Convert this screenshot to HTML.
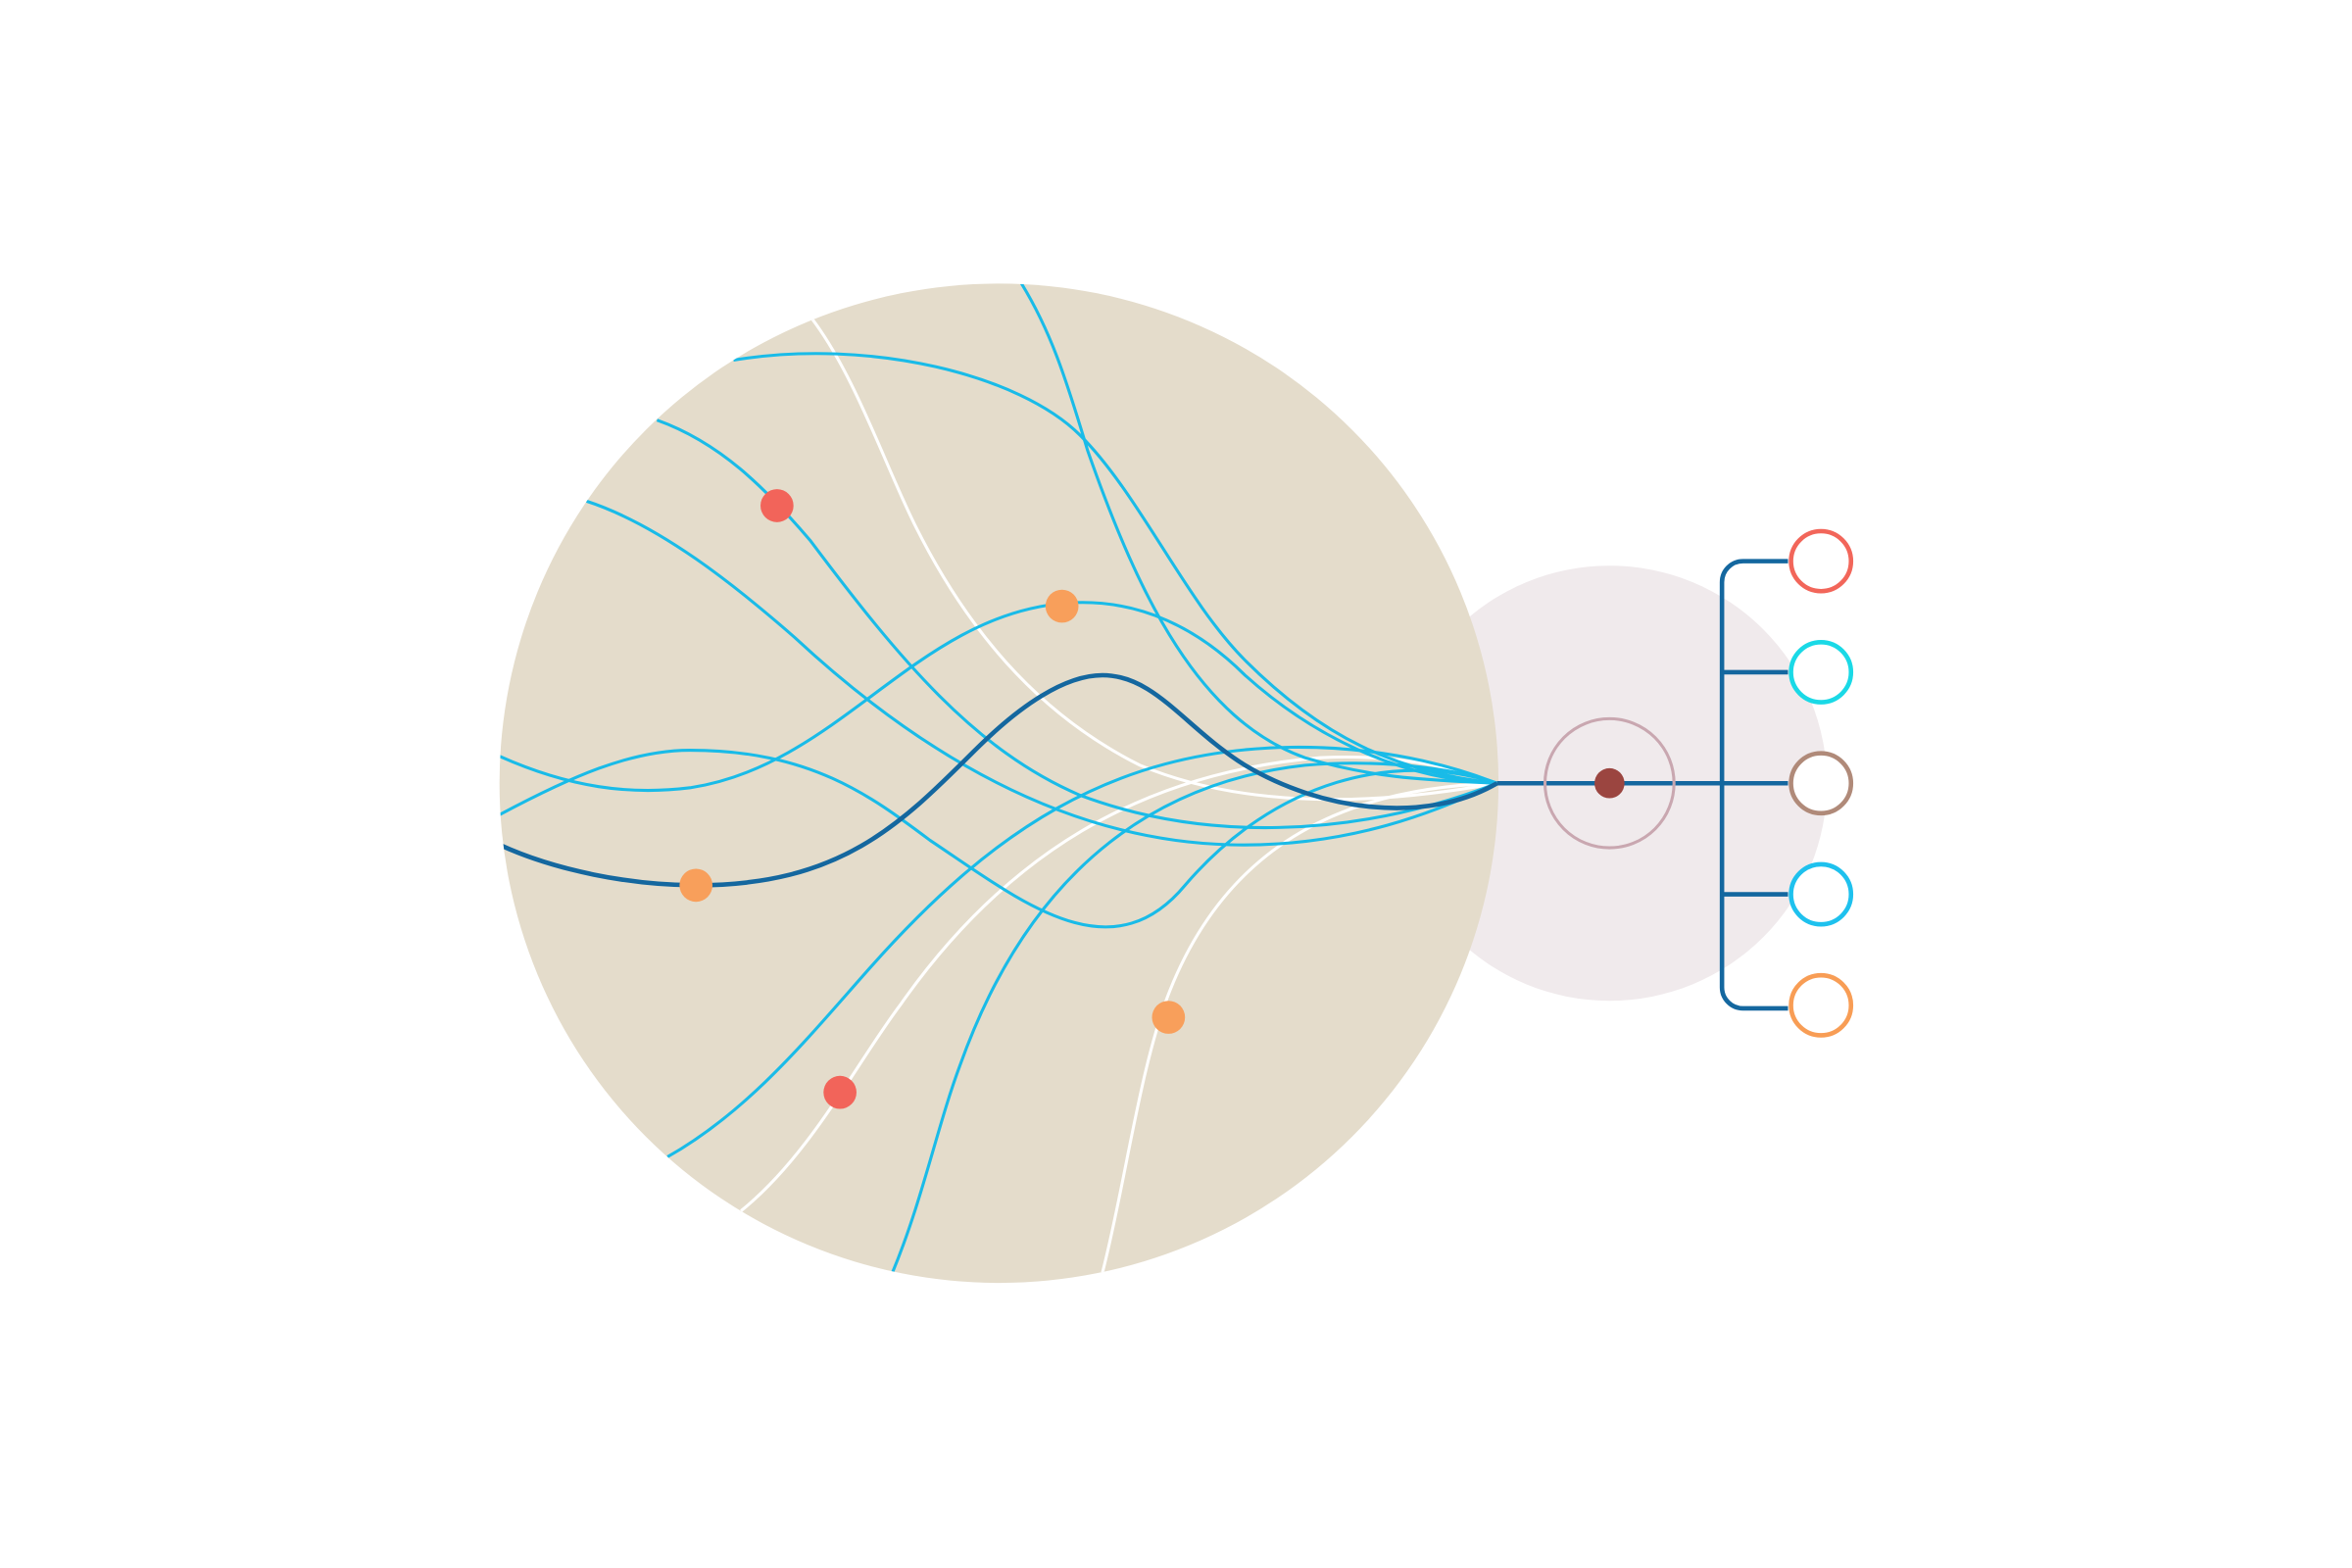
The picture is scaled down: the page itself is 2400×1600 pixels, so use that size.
<!DOCTYPE html>
<html><head><meta charset="utf-8"><style>
html,body{margin:0;padding:0;background:#fff;width:2400px;height:1600px;overflow:hidden}
svg{display:block}
</style></head><body>
<svg width="2400" height="1600" viewBox="0 0 1568 1045" preserveAspectRatio="none" xmlns="http://www.w3.org/2000/svg">
<defs><clipPath id="c"><circle cx="666" cy="522" r="333"/></clipPath></defs>
<circle cx="1073" cy="522" r="145" fill="#f0eaec"/>
<circle cx="666" cy="522" r="333" fill="#e4dccb"/>
<g clip-path="url(#c)" fill="none" stroke-width="2">
<path stroke="#ffffff" d="M541,212 C570,250 590,310 610,350 C650,430 700,480 760,510 C820,535 900,540 998,522"/>
<path stroke="#ffffff" d="M494,807 C540,770 570,710 600,670 C670,570 760,515 880,505 C940,502 980,515 998,522"/>
<path stroke="#ffffff" d="M735,848 C750,790 760,710 780,660 C820,560 900,525 998,522"/>
<g stroke="#19bbe8">
<path d="M681,189 C700,220 710,250 725,300 C760,400 800,480 870,505 C920,520 960,520 998,522"/>
<path d="M489,240 C580,225 680,250 720,290 C760,330 790,400 830,440 C880,490 930,515 998,522"/>
<path d="M438,280 C480,295 510,325 540,360 C600,440 650,500 720,530 C800,560 900,560 998,522"/>
<path d="M391,334 C440,350 490,390 530,425 C600,490 700,560 820,563 C900,565 960,540 998,522"/>
<path d="M333,504 C380,525 420,530 460,525 C560,510 610,410 710,402 C760,398 800,420 830,450 C880,495 940,520 998,522"/>
<path d="M333,543 C380,518 420,500 460,500 C540,500 580,530 620,560 C680,600 740,650 790,590 C850,520 930,500 998,522"/>
<path d="M445,771 C500,740 540,690 580,645 C660,555 740,500 860,498 C930,497 980,515 998,522"/>
<path d="M595,848 C615,800 625,750 640,710 C690,570 780,520 870,510 C930,505 980,515 998,522"/>
</g>
<path stroke="#14679f" stroke-width="3" d="M333,563 C370,580 420,590 464,590 C560,590 600,550 650,500 C680,470 710,450 735,450 C770,450 790,485 830,510 C880,540 950,550 998,522"/>
</g>
<g fill="none" stroke="#14679f" stroke-width="3">
<path d="M998,522 H1192"/>
<path d="M1192,374 H1162 A14,14 0 0 0 1148,388 V658 A14,14 0 0 0 1162,672 H1192"/>
<path d="M1148,448 H1192 M1148,596 H1192"/>
</g>
<circle cx="1073" cy="522" r="43" fill="none" stroke="#c9a7b0" stroke-width="2"/>
<circle cx="1073" cy="522" r="10" fill="#9b4540"/>
<g fill="#fff" stroke-width="3">
<circle cx="1214" cy="374" r="20" stroke="#f2665a"/>
<circle cx="1214" cy="448" r="20" stroke="#1ad9e6"/>
<circle cx="1214" cy="522" r="20" stroke="#b08a79"/>
<circle cx="1214" cy="596" r="20" stroke="#1ec1ee"/>
<circle cx="1214" cy="670" r="20" stroke="#f89d55"/>
</g>
<g>
<circle cx="518" cy="337" r="11" fill="#f2645a"/>
<circle cx="560" cy="728" r="11" fill="#f2645a"/>
<circle cx="708" cy="404" r="11" fill="#f89f5b"/>
<circle cx="464" cy="590" r="11" fill="#f89f5b"/>
<circle cx="779" cy="678" r="11" fill="#f89f5b"/>
</g>
</svg>
</body></html>
